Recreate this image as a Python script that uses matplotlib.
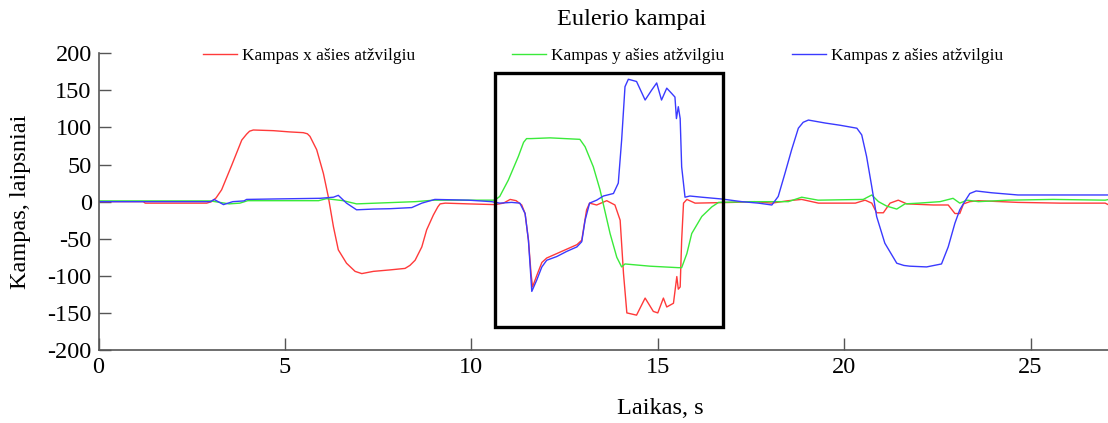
"""
Eulerio kampų grafikas
"""
import matplotlib
matplotlib.use('Agg')
import matplotlib.pyplot as plt
from matplotlib.patches import Rectangle

W, H = 1108, 423

# laikas, s ir kampai, laipsniai
t_x = [0, 1.2, 1.25, 2.9, 3.03, 3.15, 3.3, 3.57, 3.84, 3.97, 4.05, 4.15, 4.69, 5.13, 5.49, 5.6,
       5.67, 5.85, 6.03, 6.16, 6.30, 6.43, 6.65, 6.88, 7.06, 7.37, 7.82, 8.22, 8.35, 8.49, 8.67,
       8.8, 8.98, 9.1, 9.16, 9.3, 9.92, 10.63, 10.86, 11.04, 11.2, 11.35, 11.44, 11.53, 11.6,
       11.64, 11.75, 11.89, 12.02, 12.29, 12.56, 12.83, 12.96, 13.09, 13.17, 13.36, 13.63, 13.85,
       13.99, 14.08, 14.17, 14.43, 14.66, 14.88, 15.0, 15.15, 15.24, 15.42, 15.51, 15.55, 15.6,
       15.64, 15.69, 15.78, 16.0, 17.0, 17.6, 18.06, 18.5, 18.86, 19.31, 20.3, 20.56, 20.74,
       20.87, 21.05, 21.23, 21.45, 21.68, 22.39, 22.79, 22.97, 23.1, 23.2, 23.37, 23.6, 24.66,
       25.8, 27.0, 27.1]
ang_x = [0, 0, -2, -2, 0, 5, 16, 49, 83, 91, 95, 96.6, 95.7, 94, 93, 91.5,
         88, 70, 38, 7, -34, -65, -83, -94, -97, -94, -92, -90, -86, -79, -61,
         -38, -18, -7, -3, -2, -3, -4, -2, 3, 1.3, -4.5, -16, -52, -97,
         -115, -100, -82, -76, -70, -64, -58, -52, -11, -2, -4.5, 1.3, -4.5,
         -25, -97, -150, -153, -130, -148, -150, -130, -142, -137, -101, -118, -115,
         -52, -2, 3, -2, -1, 0, -2, 1.3, 3, -2, -2, 2, -2,
         -15, -15, -2, 2, -3, -4.5, -4.5, -16, -16, -3, 0, 1.3, -1,
         -2, -2, -4.5]

t_y = [0, 3.0, 3.5, 3.79, 4.0, 5.9, 6.11, 6.56, 6.92, 7.82, 8.5, 9.0, 10.63, 10.76, 10.99,
       11.26, 11.4, 11.48, 11.6, 12.11, 12.91, 13.05, 13.27, 13.45, 13.72, 13.9, 14.03, 14.12,
       14.79, 15.55, 15.64, 15.78, 15.91, 16.18, 16.45, 16.63, 17.5, 18.5, 18.86, 19.3, 20.51,
       20.74, 20.92, 21.14, 21.41, 21.63, 22.0, 22.57, 22.92, 23.1, 23.3, 23.6, 24.4, 25.6,
       27.0, 27.1]
ang_y = [1, 1, -3, -2, 1.3, 1.3, 4, 1.3, -3, -1.3, 0, 2, 2, 7, 29,
         61, 80, 85, 85, 86, 84, 74, 47, 16, -43, -75, -88, -84,
         -87, -89, -89, -70, -43, -20, -7, -1, 0, 0, 6, 2, 3,
         9, 0, -6, -10, -3, -2, 0, 4.5, -2, 2, 0, 2, 3,
         2, 3]

t_z = [0, 3.0, 3.1, 3.35, 3.6, 3.9, 3.97, 4.69, 5.94, 6.3, 6.43, 6.65, 6.92, 7.37, 7.82, 8.4,
       8.67, 9.02, 9.92, 10.54, 10.76, 11.08, 11.3, 11.44, 11.53, 11.62, 11.75, 11.89, 12.02,
       12.29, 12.56, 12.83, 12.96, 13.05, 13.17, 13.36, 13.54, 13.81, 13.94, 14.03, 14.12,
       14.21, 14.43, 14.66, 14.83, 14.97, 15.1, 15.24, 15.37, 15.46, 15.5, 15.55, 15.6, 15.64,
       15.73, 15.86, 16.18, 16.71, 17.25, 17.7, 18.06, 18.23, 18.41, 18.59, 18.77, 18.9, 19.04,
       19.49, 19.89, 20.34, 20.47, 20.6, 20.74, 20.87, 21.09, 21.41, 21.6, 21.76, 22.21, 22.61,
       22.79, 22.97, 23.1, 23.23, 23.37, 23.54, 23.95, 24.66, 27.1]
ang_z = [0, 0, 3, -4, 0, 1, 3, 3.6, 4.5, 6, 8.5, -2, -11, -10, -9.5, -8,
         -2, 3, 2, 0, -2, -1, -2, -16, -52, -121, -106, -88, -79,
         -74, -67, -61, -54, -25, -2, 2, 7.6, 11, 25, 83, 155,
         165, 162, 137, 150, 160, 137, 153, 146, 141, 112, 128, 112, 47,
         6, 7.6, 6, 3.6, 0, -2, -4.5, 7, 38, 70, 99, 107, 110,
         106, 103, 99, 90, 61, 20, -20, -56, -83, -86, -87, -88, -84,
         -61, -29, -11, 0, 11, 14.4, 12, 9, 9]

labels = ['Kampas x ašies atžvilgiu', 'Kampas y ašies atžvilgiu', 'Kampas z ašies atžvilgiu']
colors = ['#ff3a3a', '#3aea3a', '#3a3aff']

plt.rcParams['font.family'] = ['Liberation Serif', 'DejaVu Serif']
plt.rcParams['axes.unicode_minus'] = False

fig = plt.figure(figsize=(W / 100, H / 100), dpi=100)
ax = fig.add_axes([98.6 / W, 73 / H, 1 - 98.6 / W, 296.7 / H])

lines = []
for tt, aa, c in zip((t_x, t_y, t_z), (ang_x, ang_y, ang_z), colors):
    ln, = ax.plot(tt, aa, color=c, lw=1.0)
    lines.append(ln)

# pažymėta sritis
ax.add_patch(Rectangle((10.63, -168.5), 16.76 - 10.63, 173 + 168.5, fill=False,
                       edgecolor='black', lw=2.4, clip_on=False, zorder=5))

ax.set_xlim(0, (W - 98.6) / 37.28)
ax.set_ylim(-200, 200)
ax.set_xticks([0, 5, 10, 15, 20, 25])
ax.set_yticks(range(-200, 201, 50))
for s in ('top', 'right'):
    ax.spines[s].set_visible(False)
for s in ('left', 'bottom'):
    ax.spines[s].set_color('#555555')
    ax.spines[s].set_linewidth(1.2)
ax.tick_params(direction='in', length=8.5, width=1, color='#555555', labelsize=17.5)
ax.tick_params(axis='y', pad=5)
ax.tick_params(axis='x', pad=5)

fig.text(632 / W, 1 - 20 / H, 'Eulerio kampai', ha='center', va='center', fontsize=17.5)
fig.text(660 / W, 1 - 408 / H, 'Laikas, s', ha='center', va='center', fontsize=17.5)
fig.text(21 / W, 1 - 202 / H, 'Kampas, laipsniai', ha='center', va='center',
         rotation=90, fontsize=17.5)

# kiekvienas legendos įrašas atskirai
for ln, lab, x0 in zip(lines, labels, (203, 512, 792)):
    fig.legend(handles=[ln], labels=[lab], loc='center left',
               bbox_to_anchor=(x0 / W, 1 - 55.7 / H), frameon=False,
               borderpad=0, borderaxespad=0, handlelength=1.95, handletextpad=0.3,
               fontsize=12.4)

fig.savefig('out.png', dpi=100)
